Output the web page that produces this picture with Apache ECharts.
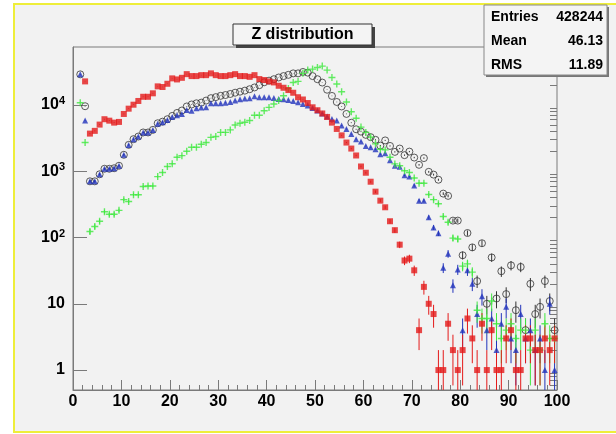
<!DOCTYPE html>
<html>
<head>
<meta charset="utf-8">
<script src="https://cdn.jsdelivr.net/npm/echarts@6/dist/echarts.min.js"></script>
<style>
  html, body { margin: 0; padding: 0; background: #fff; }
  #frame { position: absolute; left: 13px; top: 3px; width: 610px; height: 426px; background: #f2f2f2; border: 2px solid #eeee3a; }
  #chart { position: absolute; left: 0; top: 0; width: 616px; height: 434px; }
</style>
</head>
<body>
<div id="frame"></div>
<div id="chart"></div>
<script>
// bin contents, one value per bin (bins of width 1 from 0 to 100), null = empty
const redCounts = [
  null, null, 22700, 3700, 4070, 5060, 6100, 5800, 5420, 5550,
  7320, 8800, 10100, 11500, 13300, 13300, 15000, 19100, 18700, 20900,
  25200, 24300, 25700, 29200, 27300, 27300, 28200, 28200, 30000, 28200,
  27300, 27300, 28200, 29200, 27300, 27300, 26600, 28200, 24600, 23800,
  22700, 21900, 19500, 18200, 16800, 15300, 13100, 12100, 10700, 9230,
  8330, 7450, 6600, 5420, 4350, 3480, 2710, 2200, 1730, 1180,
  950, 695, 492, 360, 286, 176, 129, 78, 45, 48,
  32, 4, 18, 10, 7, 1, 1, 5, 2, 1,
  2, 6, 3, 1, 5, 1, 4, 1, 1, 3,
  4, 1, 1, 3, 3, 2, 2, 3, 2, 3
]
const blackCounts = [
  null, 29000, 9580, 705, 705, 900, 1090, 1090, 1110, 1210,
  1770, 2500, 3050, 3340, 3850, 3850, 4210, 5300, 5600, 6100,
  6840, 7590, 8260, 9500, 10180, 10600, 10850, 11660, 12680, 13140,
  13740, 14140, 14660, 15320, 15880, 16460, 17300, 18400, 19900, 22000,
  23300, 24500, 26000, 27300, 28500, 30000, 30000, 31500, 30800, 27300,
  24500, 21800, 17000, 13700, 11100, 9500, 7330, 5400, 4300, 3960,
  3540, 3270, 2980, 2440, 2920, 2410, 1960, 2200, 1750, 1980,
  1610, 1250, 1580, 980, 890, 745, 460, 425, 180, 180,
  54, 117, 71, 22, 82, 10, 50, 12, 31, 14,
  38, 8, 36, 4, 20, 7, 9, 22, 11, 4
]
const blueCounts = [
  null, 29000, 5830, 705, 705, 900, 1090, 1090, 1110, 1210,
  1770, 2500, 3050, 3340, 3850, 3850, 4210, 5190, 5510, 5950,
  6590, 7000, 7330, 8410, 8200, 8930, 9180, 9250, 10600, 10600,
  10600, 10850, 11120, 11660, 12240, 12500, 12680, 13600, 13140, 13140,
  13140, 12700, 12300, 12240, 11890, 11500, 11000, 10360, 9830, 8990,
  8260, 7450, 6730, 6140, 5810, 4920, 4350, 3640, 3050, 2800,
  2410, 2300, 2150, 1810, 1870, 1470, 1210, 1170, 870, 830,
  610, 360, 360, 202, 142, 116, 35, 57, 19, 33,
  4, 32, 20, 7, 13, 4, 6, 2, 5, 9,
  3, 2, 7, 3, 4, 2, 3, 1, 10, 1
]
const greenCounts = [
  null, 10830, 2710, 123, 147, 176, 245, 224, 224, 257,
  373, 350, 443, 443, 590, 600, 600, 830, 960, 1180,
  1300, 1630, 1720, 2000, 2300, 2300, 2560, 2710, 3250, 3340,
  3860, 3860, 4210, 5000, 5300, 5500, 5830, 6990, 6990, 8200,
  9200, 10360, 11660, 13800, 17700, 21800, 22700, 30000, 33600, 34800,
  36800, 38600, 33600, 26000, 20700, 15800, 11100, 7900, 6320, 4640,
  3860, 3270, 2590, 2150, 2100, 1630, 1290, 1210, 1020, 960,
  790, 660, 660, 445, 373, 324, 208, 170, 98, 95,
  37, 40, 30, 8, 6, 6, 11, 5, 3, 4,
  5, 3, 4, 4, 2, 4, 2, 5, 3, 3
]

const yMajorTicks = [1, 10, 100, 1000, 10000]
const yMinorTicks = [0.6, 0.7, 0.8, 0.9,
  2, 3, 4, 5, 6, 7, 8, 9,
  20, 30, 40, 50, 60, 70, 80, 90,
  200, 300, 400, 500, 600, 700, 800, 900,
  2000, 3000, 4000, 5000, 6000, 7000, 8000, 9000,
  20000, 30000, 40000, 50000, 60000, 70000]

const statsRows = [['Entries', '428244'], ['Mean', '46.13'], ['RMS', '11.89']]
const titleText = 'Z distribution'

const yMin = 0.5
const yMax = 75000
const font = 'Liberation Sans, Arial, Helvetica, sans-serif'

const toPoints = (counts) => counts.map((v, i) => v == null ? null : [i + 0.5, v]).filter(p => p)

const errorBars = (counts, color) => ({
  type: 'custom',
  silent: true,
  z: 2,
  encode: { x: 0, y: 1 },
  data: toPoints(counts),
  renderItem: function (params, api) {
    const x = api.value(0)
    const v = api.value(1)
    const e = Math.sqrt(v)
    const cs = params.coordSys
    const top = api.coord([x, Math.min(v + e, yMax)])
    let bottomY = cs.y + cs.height
    if (v - e > yMin) bottomY = api.coord([x, v - e])[1]
    return {
      type: 'line',
      shape: { x1: top[0], y1: top[1], x2: top[0], y2: bottomY },
      style: { stroke: color, lineWidth: 1 }
    }
  }
})

const markers = (name, counts, symbol, size, style) => ({
  name: name,
  type: 'scatter',
  z: 3,
  symbol: symbol,
  symbolSize: size,
  itemStyle: style,
  data: toPoints(counts)
})

const plusPath = 'path://M4,0h2v4h4v2h-4v4h-2v-4h-4v-2h4z'

let chartDom = document.getElementById('chart')
let myChart = echarts.init(chartDom)

let option = {
  animation: false,
  backgroundColor: 'transparent',
  grid: {
    left: 73, right: 59, top: 47, bottom: 44,
    show: true, borderColor: '#7a7a7a', borderWidth: 1
  },
  xAxis: {
    type: 'value', min: 0, max: 100, interval: 10,
    axisLine: { lineStyle: { color: '#7a7a7a' } },
    axisTick: { inside: true, length: 10, lineStyle: { color: '#7a7a7a' } },
    minorTick: { show: true, splitNumber: 5, length: 5, lineStyle: { color: '#7a7a7a' } },
    splitLine: { show: false },
    axisLabel: { color: '#000', fontSize: 16, fontWeight: 'bold', fontFamily: font, margin: 4 }
  },
  yAxis: [
    {
      type: 'log', logBase: 10, min: yMin, max: yMax,
      axisLine: { show: true, lineStyle: { color: '#7a7a7a' } },
      axisTick: { show: true, inside: true, length: 14, customValues: yMajorTicks, lineStyle: { color: '#7a7a7a' } },
      splitLine: { show: false },
      axisLabel: {
        customValues: yMajorTicks,
        margin: 8,
        color: '#000',
        formatter: function (v) {
          if (v < 5) return '{b|1}'
          if (v < 50) return '{b|10}'
          return '{b|10}{s|' + Math.round(Math.log10(v)) + '}'
        },
        rich: {
          b: { fontSize: 16, fontWeight: 'bold', fontFamily: font, color: '#000' },
          s: { fontSize: 11, fontWeight: 'bold', fontFamily: font, color: '#000', verticalAlign: 'top', padding: [0, 0, 8, 0] }
        }
      }
    },
    {
      type: 'log', logBase: 10, min: yMin, max: yMax,
      axisLine: { show: false },
      axisTick: { show: true, inside: true, length: 7, customValues: yMinorTicks, lineStyle: { color: '#7a7a7a' } },
      axisLabel: { show: false },
      splitLine: { show: false }
    }
  ],
  series: [
    errorBars(blackCounts, '#333'),
    errorBars(blueCounts, '#2233bb'),
    errorBars(greenCounts, '#3fe83f'),
    errorBars(redCounts, '#e41a1a'),
    markers('black', blackCounts, 'circle', 7, { color: 'rgba(0,0,0,0)', borderColor: '#333', borderWidth: 1 }),
    markers('blue', blueCounts, 'triangle', 6, { color: '#2233bb' }),
    markers('green', greenCounts, plusPath, 7, { color: '#3fe83f' }),
    markers('red', redCounts, 'rect', 6, { color: '#e41a1a' })
  ],
  graphic: [
    // title box with shadow
    { type: 'rect', z: 100, shape: { x: 236, y: 27, width: 139, height: 21 }, style: { fill: '#444' } },
    { type: 'rect', z: 101, shape: { x: 233, y: 24, width: 139, height: 21 }, style: { fill: '#f4f4f4', stroke: '#333', lineWidth: 1 } },
    { type: 'text', z: 102, x: 302.5, y: 35, style: { text: titleText, font: 'bold 16px ' + font, fill: '#000', align: 'center', verticalAlign: 'middle' } },
    // stats box with shadow
    { type: 'rect', z: 100, shape: { x: 486, y: 7, width: 123, height: 70 }, style: { fill: '#777' } },
    { type: 'rect', z: 101, shape: { x: 484, y: 5, width: 123, height: 70 }, style: { fill: '#f4f4f4', stroke: '#888', lineWidth: 1 } }
  ].concat(statsRows.flatMap((row, i) => [
    { type: 'text', z: 102, x: 491, y: 17.5 + i * 24, style: { text: row[0], font: 'bold 14px ' + font, fill: '#000', align: 'left', verticalAlign: 'middle' } },
    { type: 'text', z: 102, x: 603, y: 17.5 + i * 24, style: { text: row[1], font: 'bold 14px ' + font, fill: '#000', align: 'right', verticalAlign: 'middle' } }
  ]))
}

myChart.setOption(option)
</script>
</body>
</html>
